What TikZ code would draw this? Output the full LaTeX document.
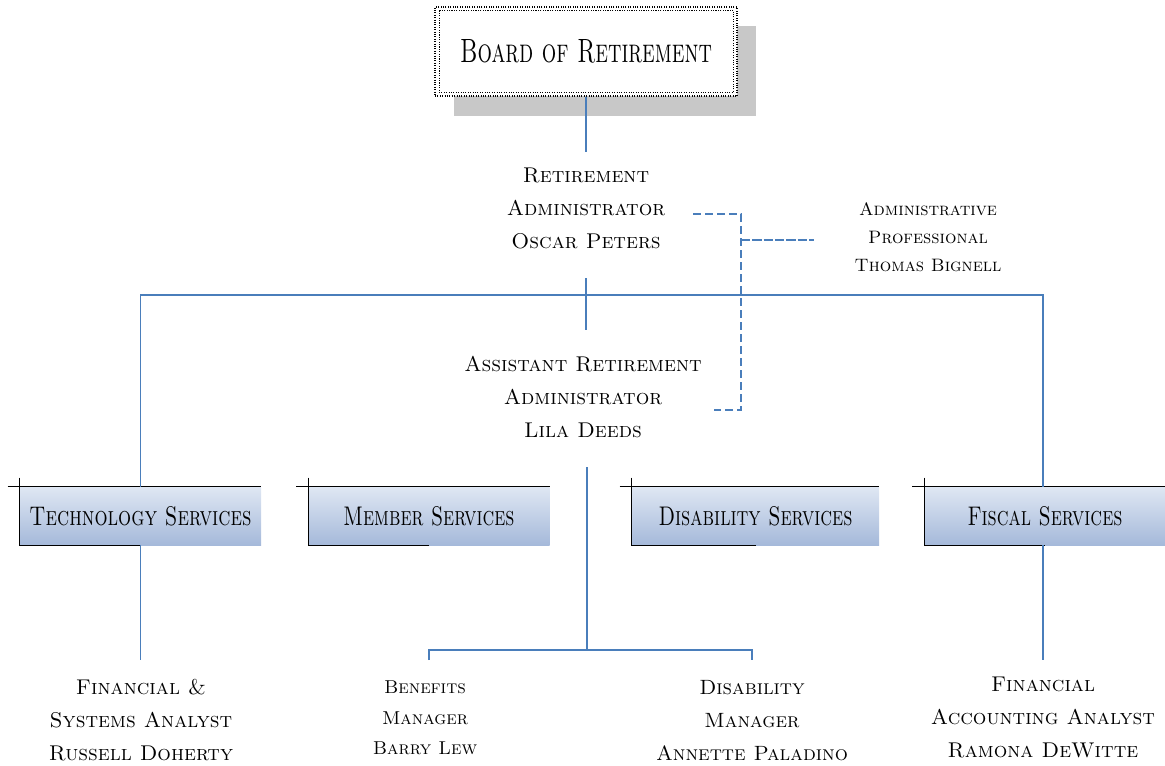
\documentclass[tikz,border=0pt]{standalone}
\usepackage{graphicx}
\usetikzlibrary{calc,backgrounds}
\definecolor{conn}{HTML}{4A7EBB}
\definecolor{gtop}{HTML}{DFE7F3}
\definecolor{gbot}{HTML}{A5B9DA}
\definecolor{shadowgray}{HTML}{C8C8C8}
\newcommand{\fitbox}[3]{\resizebox{\dimexpr #1pt*3/4\relax}{\dimexpr #2pt*3/4\relax}{\scshape #3}}
\begin{document}
\begin{tikzpicture}[x=0.75pt,y=-0.75pt,
  conn/.style={draw=conn,line width=1.1pt},
  dconn/.style={draw=conn,line width=1.1pt,dash pattern=on 6pt off 3pt},
  blk/.style={draw=black,line width=1pt},
  txt/.style={align=center,inner sep=0pt,font=\fontsize{16}{24.75}\selectfont\scshape},
  stxt/.style={align=center,inner sep=0pt,font=\fontsize{13.5}{21}\selectfont\scshape},
  svc/.style={inner sep=0pt,minimum width=241*0.75pt,minimum height=58*0.75pt,
    top color=gtop,bottom color=gbot},
  boardbox/.style={draw=black,densely dotted,line width=0.8pt,fill=white,
    minimum width=302*0.75pt,minimum height=89*0.75pt,inner sep=0pt}
]
\useasboundingbox (0,0) rectangle (1165,765);
% Board
\node[boardbox] (board) at (586,51.5) {\fitbox{252}{23}{Board of Retirement}};
\begin{scope}[on background layer]
  \fill[shadowgray] ($(board.north west)+(20,20)$) rectangle ($(board.south east)+(18,19)$);
\end{scope}
\draw[black,densely dotted,line width=0.8pt] ($(board.north west)+(5,4)$) rectangle ($(board.south east)+(-4,-4)$);

% Text nodes
\node[txt] (ra) at (586,208) {Retirement\\Administrator\\Oscar Peters};
\node[stxt] (ap) at (928,237) {Administrative\\Professional\\Thomas Bignell};
\node[txt] (ara) at (583,397) {Assistant Retirement\\Administrator\\Lila Deeds};

% Service boxes
\node[svc] (tech) at (140.5,516) {\fitbox{222}{19}{Technology Services}};
\node[svc] (mem) at (429,516) {\fitbox{171}{19}{Member Services}};
\node[svc,minimum width=247*0.75pt] (dis) at (755.5,516) {\fitbox{194}{19}{Disability Services}};
\node[svc] (fis) at (1045,516) {\fitbox{155}{19}{Fiscal Services}};
\foreach \n in {tech,mem,dis,fis}{
  \draw[blk] ($(\n.north west)+(-12,0)$) -- (\n.north east);
  \draw[blk] ($(\n.north west)+(0,-9)$) -- (\n.south west) -- (\n.south);
}

% Bottom texts
\node[txt] (fsa) at (141,720) {Financial \&\\Systems Analyst\\Russell Doherty};
\node[align=center,inner sep=0pt,font=\fontsize{14}{23}\selectfont\scshape] (bm) at (425,718) {Benefits\\Manager\\Barry Lew};
\node[txt,font=\fontsize{15.5}{24.75}\selectfont\scshape] (dm) at (752,721) {Disability\\Manager\\Annette Paladino};
\node[txt] (faa) at (1043,717) {Financial\\Accounting Analyst\\Ramona DeWitte};

% Connectors
\coordinate (b1) at (586,152);
\draw[conn] (board.south) -- (b1);
\coordinate (r1) at (586,278);
\coordinate (r2) at (586,330);
\draw[conn] (r1) -- (r2);
\coordinate (hl) at (141,295);
\coordinate (hr) at (1043,295);
\coordinate (ft) at (1043,487);
\draw[conn] (tech.north) -- (tech.north |- hl) -- (hr) -- (ft);
\coordinate (t1) at (141,660);
\draw[conn] (tech.south) -- (tech.south |- t1);
\coordinate (f1) at (1043,545);
\coordinate (f2) at (1043,660);
\draw[conn] (f1) -- (f2);
\coordinate (a1) at (587,467);
\coordinate (a2) at (587,650);
\coordinate (bl) at (429,660);
\coordinate (br) at (752,660);
\draw[conn] (a1) -- (a2);
\draw[conn] (bl) -- (bl |- a2) -- (br |- a2) -- (br);

% Dashed
\coordinate (d1) at (693,214);
\coordinate (d2) at (741,214);
\coordinate (d3) at (741,410);
\coordinate (d4) at (714,410);
\coordinate (d5) at (741,240);
\coordinate (d6) at (814,240);
\draw[dconn] (d1) -- (d2) -- (d3) -- (d4);
\draw[dconn,dash pattern=on 7pt off 1.5pt] (d5) -- (d6);
\end{tikzpicture}
\end{document}
